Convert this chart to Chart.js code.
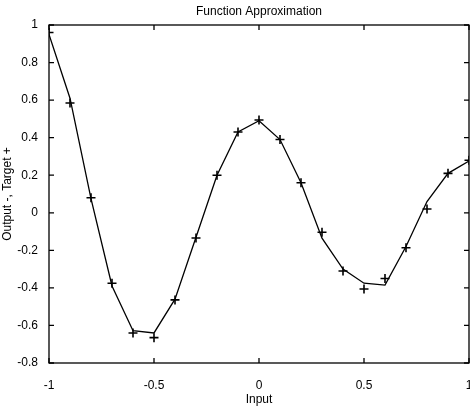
<!DOCTYPE html>
<html>
<head>
<meta charset="utf-8">
<script src="https://cdn.jsdelivr.net/npm/chart.js@4/dist/chart.umd.min.js"></script>
<style>
  html, body { margin: 0; padding: 0; background: #fff; }
  #wrap { width: 470px; height: 407px; }
</style>
</head>
<body>
<div id="wrap"><canvas id="approx"></canvas></div>
<script>
const inputs = [-1, -0.9, -0.8, -0.7, -0.6, -0.5, -0.4, -0.3, -0.2, -0.1, 0,
  0.1, 0.2, 0.3, 0.4, 0.5, 0.6, 0.7, 0.8, 0.9, 1];
const targets = [0.96, 0.585, 0.08, -0.375, -0.64, -0.665, -0.464, -0.134, 0.2, 0.43, 0.494,
  0.39, 0.16, -0.104, -0.31, -0.406, -0.35, -0.186, 0.02, 0.21, 0.28];
const outputs = [0.95, 0.61, 0.075, -0.39, -0.628, -0.64, -0.46, -0.13, 0.2, 0.43, 0.49,
  0.39, 0.16, -0.135, -0.30, -0.375, -0.385, -0.18, 0.06, 0.21, 0.276];

const FONT = "'Liberation Sans', Arial, sans-serif";

// matlab style box with inward ticks + title over the plot area
const matlabBox = {
  id: "matlabBox",
  afterDraw(chart) {
    const { ctx, chartArea: a, scales } = chart;
    ctx.save();
    ctx.strokeStyle = "#000";
    ctx.lineWidth = 1.3;
    ctx.strokeRect(a.left, a.top, a.right - a.left, a.bottom - a.top);
    const len = 5;
    ctx.beginPath();
    scales.x.ticks.forEach(t => {
      const px = scales.x.getPixelForValue(t.value);
      ctx.moveTo(px, a.bottom); ctx.lineTo(px, a.bottom - len);
      ctx.moveTo(px, a.top); ctx.lineTo(px, a.top + len);
    });
    scales.y.ticks.forEach(t => {
      const py = scales.y.getPixelForValue(t.value);
      ctx.moveTo(a.left, py); ctx.lineTo(a.left + len, py);
      ctx.moveTo(a.right, py); ctx.lineTo(a.right - len, py);
    });
    ctx.stroke();
    ctx.fillStyle = "#000";
    ctx.font = "12px " + FONT;
    ctx.textAlign = "center";
    ctx.textBaseline = "middle";
    ctx.fillText("Function Approximation", (a.left + a.right) / 2, 12);
    ctx.restore();
  }
};

new Chart(document.getElementById("approx"), {
  type: "line",
  data: {
    datasets: [
      {
        label: "Output",
        data: inputs.map((x, i) => ({ x: x, y: outputs[i] })),
        borderColor: "#000",
        borderWidth: 1.3,
        pointRadius: 0,
        tension: 0,
      },
      {
        label: "Target",
        data: inputs.map((x, i) => ({ x: x, y: targets[i] })),
        showLine: false,
        pointStyle: "cross",
        pointRadius: 4.5,
        pointBorderWidth: 1.6,
        pointBorderColor: "#000",
        pointBackgroundColor: "#000",
      },
    ],
  },
  options: {
    responsive: true,
    maintainAspectRatio: false,
    animation: false,
    layout: {
      autoPadding: false, // otherwise the + markers shrink the plot area
      padding: { top: 25, right: 1, left: 0, bottom: 0 },
    },
    plugins: {
      legend: { display: false },
      tooltip: { enabled: false },
    },
    scales: {
      x: {
        type: "linear",
        min: -1,
        max: 1,
        grid: { display: false },
        border: { display: false },
        ticks: {
          stepSize: 0.5,
          padding: 7,
          color: "#000",
          font: { size: 12, family: FONT },
          callback: v => String(parseFloat(v.toFixed(1))),
        },
        title: {
          display: true,
          text: "Input",
          color: "#000",
          font: { size: 12, family: FONT },
          padding: { top: 2, bottom: 0 },
        },
        afterFit: s => {
          s.height = 44;
          s.paddingLeft = 0;
          s.paddingRight = 0;
        },
      },
      y: {
        min: -0.8,
        max: 1,
        grid: { display: false },
        border: { display: false },
        ticks: {
          stepSize: 0.2,
          padding: 3,
          color: "#000",
          font: { size: 12, family: FONT },
          callback: v => String(parseFloat(v.toFixed(1))),
        },
        title: {
          display: true,
          text: "Output -, Target +",
          color: "#000",
          font: { size: 12, family: FONT },
          padding: { top: 0, bottom: 4 },
        },
        afterFit: s => {
          s.width = 49;
          s.paddingTop = 0;
          s.paddingBottom = 0;
        },
      },
    },
  },
  plugins: [matlabBox],
});
</script>
</body>
</html>
